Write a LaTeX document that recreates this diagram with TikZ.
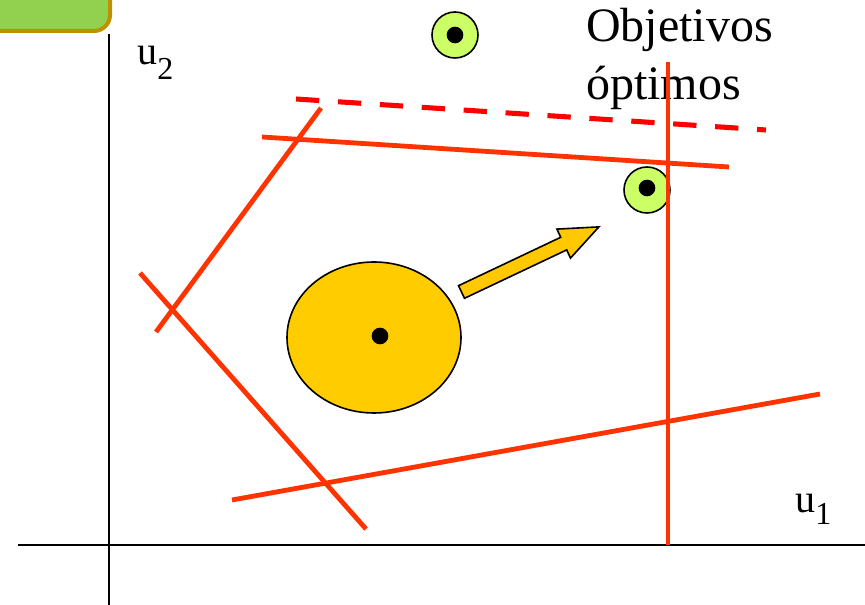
\documentclass[tikz,border=0pt]{standalone}
\usepackage{fontspec}
\setmainfont{Liberation Serif}
\tikzset{
  redline/.style={draw={rgb,255:red,255;green,51;blue,0}, line width=3.6pt},
  dashline/.style={draw={rgb,255:red,255;green,0;blue,0}, line width=3.8pt, dash pattern=on 17.5pt off 14pt},
  axis/.style={draw=black, line width=1.3pt},
  goal/.style={circle, draw=black, line width=1.2pt, fill={rgb,255:red,204;green,255;blue,102}, minimum size=34.5pt, inner sep=0pt},
  dotc/.style={circle, fill=black, minimum size=12.5pt, inner sep=0pt},
  lbl/.style={inner sep=0pt, anchor=base west, font=\fontsize{30}{36}\selectfont},
  bigtxt/.style={inner sep=0pt, anchor=base west, font=\fontsize{36}{43}\selectfont},
}
\begin{document}
\begin{tikzpicture}[x=0.75pt, y=-0.75pt]
\useasboundingbox (0,0) rectangle (865,605);
\clip (0,0) rectangle (865,605);
% green tab
\draw[draw={rgb,255:red,191;green,144;blue,0}, fill={rgb,255:red,146;green,208;blue,80}, line width=3pt, rounded corners=12pt] (-40,-40) rectangle (110,31);
% axes
\coordinate (yb) at (109,605); \coordinate (yt) at (109,34);
\coordinate (xl) at (18,545); \coordinate (xr) at (865,545);
\draw[axis] (yb) -- (yt);
\draw[axis] (xl) -- (xr);
% labels
\node[lbl] (u2) at (137,65) {u\raisebox{-11pt}{\fontsize{24}{24}\selectfont 2}};
\node[lbl] (u1) at (795,513) {u\raisebox{-9pt}{\fontsize{24}{24}\selectfont 1}};
\node[bigtxt] (obj1) at (586,42) {Objetivos};
\node[bigtxt] (obj2) at (586,100) {óptimos};
% goal circles
\node[goal] (g1) at (455,35) {};
\node[dotc] (g1d) at (455,35) {};
\node[goal] (g2) at (647,190) {};
\node[dotc] (g2d) at (647,188) {};
% ellipse
\draw[black, line width=1.2pt, fill={rgb,255:red,255;green,204;blue,0}] (374,337.5) ellipse [x radius=87, y radius=75.5];
\node[dotc] (ed) at (380,336) {};
% arrow
\draw[black, line width=1.2pt, fill={rgb,255:red,255;green,200;blue,0}, line join=miter]
  (458.5,285.7) -- (560.7,237.3) -- (556.9,229.1) -- (598.9,226.9) -- (570.5,258.1) -- (566.7,249.9) -- (464.5,298.3) -- cycle;
% constraint lines
\coordinate (a1) at (321,108); \coordinate (a2) at (156,332);
\coordinate (b1) at (140,273); \coordinate (b2) at (366,529);
\coordinate (c1) at (232,500); \coordinate (c2) at (820,394);
\coordinate (d1) at (668,62); \coordinate (d2) at (668,545);
\coordinate (e1) at (262,137); \coordinate (e2) at (729,167);
\coordinate (f1) at (296,99); \coordinate (f2) at (766,130);
\draw[redline] (a1) -- (a2);
\draw[redline] (b1) -- (b2);
\draw[redline] (c1) -- (c2);
\draw[redline] (d1) -- (d2);
\draw[redline] (e1) -- (e2);
\draw[dashline] (f1) -- (f2);
\end{tikzpicture}
\end{document}
